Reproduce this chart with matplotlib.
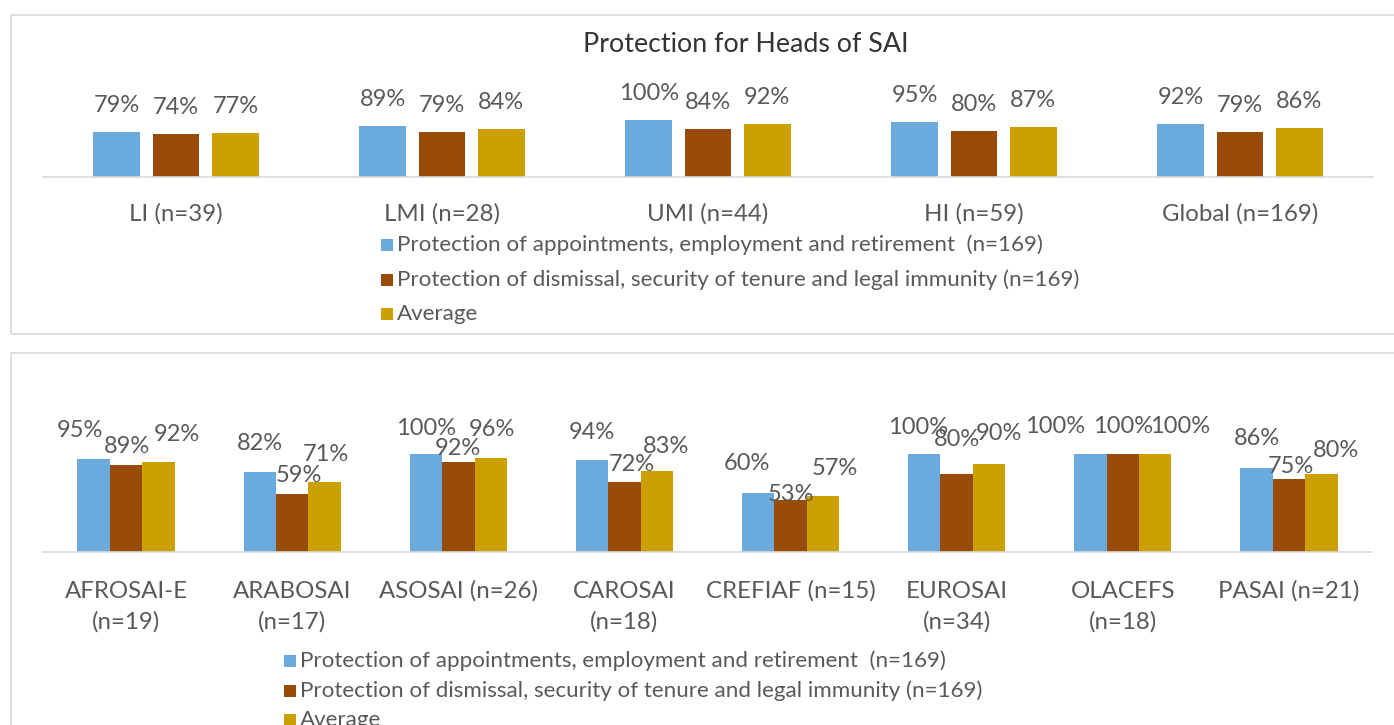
import matplotlib
matplotlib.use('Agg')
import matplotlib.pyplot as plt
from matplotlib.patches import Rectangle

# ---------------- data ----------------
income_groups = ['LI (n=39)', 'LMI (n=28)', 'UMI (n=44)', 'HI (n=59)', 'Global (n=169)']
income_appointment = [79, 89, 100, 95, 92]
income_dismissal = [74, 79, 84, 80, 79]
income_average = [77, 84, 92, 87, 86]

regions = ['AFROSAI-E\n(n=19)', 'ARABOSAI\n(n=17)', 'ASOSAI (n=26)', 'CAROSAI\n(n=18)',
           'CREFIAF (n=15)', 'EUROSAI\n(n=34)', 'OLACEFS\n(n=18)', 'PASAI (n=21)']
region_appointment = [95, 82, 100, 94, 60, 100, 100, 86]
region_dismissal = [89, 59, 92, 72, 53, 80, 100, 75]
region_average = [92, 71, 96, 83, 57, 90, 100, 80]

series_names = ['Protection of appointments, employment and retirement  (n=169)',
                'Protection of dismissal, security of tenure and legal immunity (n=169)',
                'Average']
title = 'Protection for Heads of SAI'

# ---------------- style ----------------
colors = ['#6AAADC', '#994C0A', '#CCA000']
text_color = '#595959'
line_color = '#D9D9D9'
FONT = ['Lato', 'DejaVu Sans']
plt.rcParams['font.family'] = FONT

# label shifts (pixels: dx, dy above bar top) for the lower chart, per region, per series
bottom_label_shift = [
    [(-14, 30), (1, 20), (18, 29)],
    [(0, 30), (7, 20), (1, 29)],
    [(0, 27), (0, 15), (1, 30)],
    [(0, 29), (7, 19), (9, 26)],
    [(-11, 31), (0, 7), (12, 29)],
    [(-6, 28), (0, 36), (10, 32)],
    [(-35, 29), (0, 29), (25, 29)],
    [(0, 31), (2, 14), (15, 25)],
]

W, H = 1394, 725
fig = plt.figure(figsize=(W / 100, H / 100), dpi=100)


def px_axes(left, right, baseline, unit_px):
    ax = fig.add_axes([left / W, (H - baseline) / H, (right - left) / W, unit_px / H])
    ax.set_ylim(0, 100)
    for s in ['top', 'left', 'right']:
        ax.spines[s].set_visible(False)
    ax.spines['bottom'].set_color(line_color)
    ax.spines['bottom'].set_linewidth(1.2)
    ax.set_yticks([])
    ax.set_xticks([])
    ax.patch.set_visible(False)
    return ax


# panel frames
fig.patches.append(Rectangle((11 / W, (H - 334) / H), (W + 20 - 11) / W, (334 - 15) / H,
                             transform=fig.transFigure, fill=False, edgecolor=line_color, lw=1.2))
fig.patches.append(Rectangle((11 / W, -20 / H), (W + 20 - 11) / W, (H - 353 + 20) / H,
                             transform=fig.transFigure, fill=False, edgecolor=line_color, lw=1.2))

fig.text(746 / W, 1 - 44 / H, title, ha='center', va='center', fontsize=19.3, color='#333333')

VAL_FS = 17
CAT_FS = 17.3
LEG_FS = 16.1

# ---------------- top chart ----------------
ax1 = px_axes(43, 1373, 177, 57.5)
n1 = len(income_groups)
ax1.set_xlim(-0.5, n1 - 0.5)
top_series = [income_appointment, income_dismissal, income_average]
step1, width1 = 0.223, 0.1755
for k, vals in enumerate(top_series):
    xs = [i + (k - 1) * step1 for i in range(n1)]
    ax1.bar(xs, vals, width=width1, color=colors[k], label=series_names[k])
    for x, v in zip(xs, vals):
        ax1.annotate(f'{v}%', xy=(x, v), xytext=(0, 20), textcoords='offset pixels',
                     ha='center', va='baseline', fontsize=VAL_FS, color=text_color,
                     annotation_clip=False)
for i, lab in enumerate(income_groups):
    ax1.annotate(lab, xy=(i, 0), xytext=(0, -26), textcoords='offset pixels',
                 ha='center', va='top', fontsize=CAT_FS, color=text_color,
                 annotation_clip=False)

# ---------------- bottom chart ----------------
ax2 = px_axes(43, 1372, 551.5, 97.2)
n2 = len(regions)
ax2.set_xlim(-0.5, n2 - 0.5)
bottom_series = [region_appointment, region_dismissal, region_average]
width2 = 0.195
for k, vals in enumerate(bottom_series):
    xs = [i + (k - 1) * width2 for i in range(n2)]
    ax2.bar(xs, vals, width=width2, color=colors[k], label=series_names[k])
    for i, (x, v) in enumerate(zip(xs, vals)):
        dx, dy = bottom_label_shift[i][k]
        ax2.annotate(f'{v}%', xy=(x, v), xytext=(dx, dy - 8), textcoords='offset pixels',
                     ha='center', va='baseline', fontsize=VAL_FS, color=text_color,
                     annotation_clip=False)
for i, lab in enumerate(regions):
    ax2.annotate(lab, xy=(i, 0), xytext=(0, -29), textcoords='offset pixels',
                 ha='center', va='top', fontsize=CAT_FS, color=text_color,
                 linespacing=1.52, annotation_clip=False)


# ---------------- legends ----------------
def draw_legend(x_box, y_rows, box=12):
    for k, (name, yc) in enumerate(zip(series_names, y_rows)):
        fig.patches.append(Rectangle((x_box / W, (H - yc - box / 2) / H), box / W, box / H,
                                     transform=fig.transFigure, facecolor=colors[k],
                                     edgecolor='none'))
        fig.text((x_box + box + 4) / W, 1 - yc / H, name, ha='left', va='center',
                 fontsize=LEG_FS, color=text_color)


draw_legend(381, [245, 280, 314])
draw_legend(284, [661, 691, 720])

fig.savefig('out.png', dpi=100)
